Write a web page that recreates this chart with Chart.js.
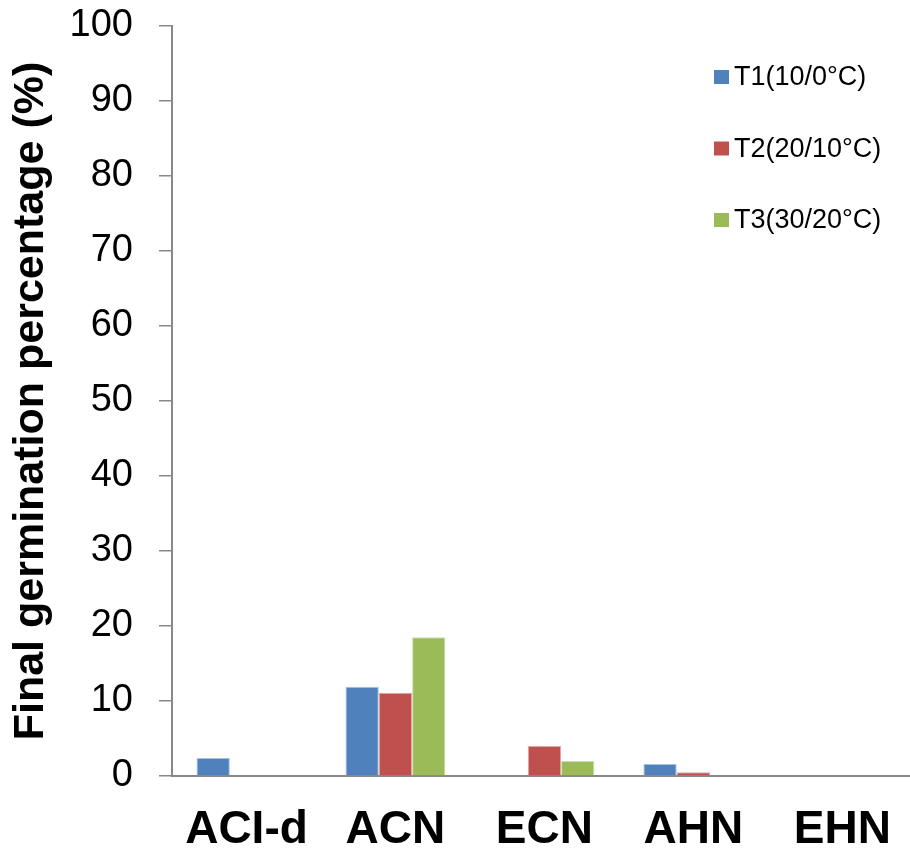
<!DOCTYPE html>
<html lang="en">
<head>
    <meta charset="UTF-8">
    <title>Final germination percentage</title>
    <style>
        html, body { margin: 0; padding: 0; background: #fff; overflow: hidden; }
        #wrap { width: 918px; height: 855px; }
    </style>
</head>
<body>
    <div id="wrap"><canvas id="germ-chart" width="918" height="855"></canvas></div>

    <script src="https://cdn.jsdelivr.net/npm/chart.js"></script>
    <script>
        // data
        const categories = ['ACI-d', 'ACN', 'ECN', 'AHN', 'EHN'];
        const seriesNames = ['T1(10/0°C)', 'T2(20/10°C)', 'T3(30/20°C)'];
        const t1Values = [2.4, 11.9, 0, 1.6, 0];
        const t2Values = [0, 11.1, 4.0, 0.5, 0];
        const t3Values = [0, 18.5, 2.0, 0, 0];
        const yTicks = [0, 10, 20, 30, 40, 50, 60, 70, 80, 90, 100];

        const fontFamily = "'Liberation Sans', Arial, sans-serif";
        const colors = ['#4F81BD', '#C0504D', '#9BBB59'];
        const edges = ['#a9c1e0', '#e0a8a6', '#cde0ac'];

        // legend drawn inside the plot, top right
        const insideLegend = {
            id: 'insideLegend',
            afterDraw(chart) {
                const ctx = chart.ctx;
                ctx.save();
                ctx.font = '27px ' + fontFamily;
                ctx.textBaseline = 'middle';
                chart.data.datasets.forEach((ds, i) => {
                    const y = 77 + i * 71.5;
                    ctx.fillStyle = ds.backgroundColor;
                    ctx.fillRect(714, y - 7, 15, 14);
                    ctx.fillStyle = '#000';
                    ctx.fillText(ds.label, 734, y + 1);
                });
                ctx.restore();
            }
        };

        const datasets = [t1Values, t2Values, t3Values].map((vals, i) => ({
            label: seriesNames[i],
            data: vals,
            backgroundColor: colors[i],
            borderColor: edges[i],
            borderWidth: c => (c.raw > 0 ? 1 : 0),
            borderSkipped: 'bottom'
        }));

        new Chart(document.getElementById('germ-chart'), {
            type: 'bar',
            data: { labels: categories, datasets: datasets },
            options: {
                responsive: false,
                animation: false,
                layout: { padding: { top: 26, right: 1, left: 0, bottom: 0 } },
                plugins: {
                    legend: { display: false },
                    tooltip: { enabled: false }
                },
                datasets: {
                    bar: { categoryPercentage: 0.671, barPercentage: 1.0 }
                },
                scales: {
                    x: {
                        afterFit: s => { s.height = 79; },
                        grid: { display: false, drawTicks: false },
                        border: { display: true, color: '#898989', width: 2 },
                        ticks: {
                            color: '#000',
                            padding: 27,
                            maxRotation: 0,
                            font: { family: fontFamily, size: 46, weight: 'bold' }
                        }
                    },
                    y: {
                        min: 0,
                        max: 100,
                        afterFit: s => {
                            s.width = 172;
                            s.paddingTop = 0;
                            s.paddingBottom = 0;
                        },
                        afterBuildTicks: s => { s.ticks = yTicks.map(v => ({ value: v })); },
                        grid: {
                            drawOnChartArea: false,
                            drawTicks: true,
                            tickLength: 13,
                            color: '#898989',
                            lineWidth: 1.5
                        },
                        border: { display: true, color: '#898989', width: 2 },
                        ticks: {
                            color: '#000',
                            padding: 26,
                            font: { family: fontFamily, size: 38 }
                        },
                        title: {
                            display: true,
                            text: 'Final germination percentage (%)',
                            color: '#000',
                            padding: { top: 5, bottom: 0 },
                            font: { family: fontFamily, size: 43, weight: 'bold' }
                        }
                    }
                }
            },
            plugins: [insideLegend]
        });
    </script>
</body>
</html>
